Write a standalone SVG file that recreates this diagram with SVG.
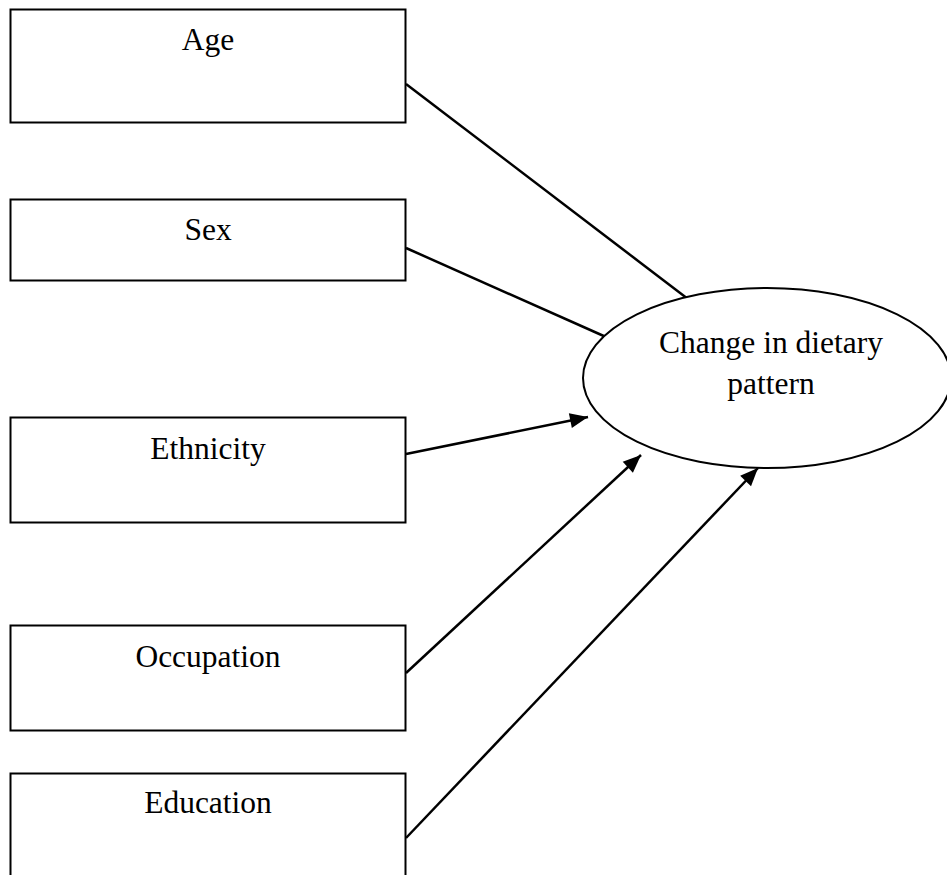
<svg xmlns="http://www.w3.org/2000/svg" width="947" height="875" viewBox="0 0 947 875">
<style>
.box{fill:#fff;stroke:#000;stroke-width:2}
.lbl{font-family:"Liberation Serif","Times New Roman",serif;font-size:31.5px;fill:#000;text-anchor:middle}
.ln{stroke:#000;stroke-width:2.5;fill:none}
</style>
<defs>
<marker id="ah" markerUnits="userSpaceOnUse" markerWidth="20" markerHeight="16" refX="18" refY="8" orient="auto" overflow="visible">
<path d="M0,0.5 L18,8 L0,15.5 Z" fill="#000"/>
</marker>
</defs>
<rect width="947" height="875" fill="#fff"/>
<g id="connectors">
<line class="ln" x1="406" y1="84" x2="688" y2="299"/>
<line class="ln" x1="406" y1="248" x2="606" y2="337"/>
<line class="ln" x1="406" y1="454" x2="588" y2="417" marker-end="url(#ah)"/>
<line class="ln" x1="406" y1="673" x2="641" y2="455" marker-end="url(#ah)"/>
<line class="ln" x1="406" y1="838" x2="758" y2="468" marker-end="url(#ah)"/>
</g>
<g id="age"><rect class="box" x="10.5" y="9.5" width="395" height="113"/><text class="lbl" x="208" y="50">Age</text></g>
<g id="sex"><rect class="box" x="10.5" y="199.5" width="395" height="81"/><text class="lbl" x="208" y="240">Sex</text></g>
<g id="ethnicity"><rect class="box" x="10.5" y="417.5" width="395" height="105"/><text class="lbl" x="208" y="459">Ethnicity</text></g>
<g id="occupation"><rect class="box" x="10.5" y="625.5" width="395" height="105"/><text class="lbl" x="208" y="667">Occupation</text></g>
<g id="education"><rect class="box" x="10.5" y="773.5" width="395" height="110"/><text class="lbl" x="208" y="813">Education</text></g>
<g id="change"><ellipse cx="767" cy="378" rx="184" ry="90" fill="#fff" stroke="#000" stroke-width="2"/>
<text class="lbl" x="771" y="353">Change in dietary</text><text class="lbl" x="771" y="394">pattern</text></g>
</svg>
